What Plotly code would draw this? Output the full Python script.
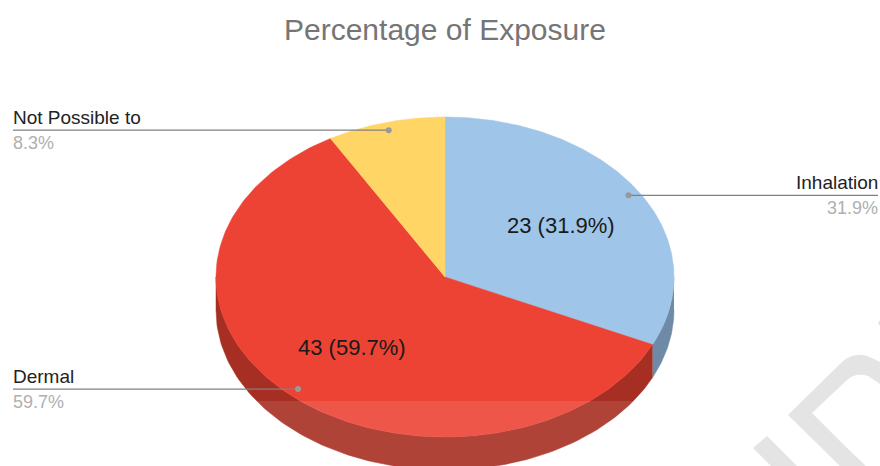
import numpy as np
import plotly.graph_objects as go

title = "Percentage of Exposure"
labels = ["Inhalation", "Dermal", "Not Possible to"]
values = [23, 43, 6]
colors = ["#9FC5E8", "#EC4335", "#FFD666"]
side_colors = ["#6F8AA6", "#A62E22", "#B39648"]

# pie geometry, in page pixels
cx, cy, rx, ry = 445, 277, 229, 160
depth = 33
FONT = "Liberation Sans"

total = sum(values)
shares = [v / total for v in values]
ends = np.cumsum(shares) * 360
starts = ends - np.array(shares) * 360
mids = (starts + ends) / 2


def px_at(deg, r=1.0, drop=0):
    t = np.radians(deg)
    return cx + rx * r * np.sin(t), cy - ry * r * np.cos(t) + drop


fig = go.Figure()

# sides first, only the front half of the rim shows
for a, b, col in zip(starts, ends, side_colors):
    lo, hi = max(a, 90), min(b, 270)
    if lo >= hi:
        continue
    th = np.linspace(lo, hi, 120)
    x1, y1 = px_at(th)
    x2, y2 = px_at(th[::-1], drop=depth)
    fig.add_trace(go.Scatter(x=np.r_[x1, x2], y=np.r_[y1, y2], fill="toself", fillcolor=col,
                             mode="lines", line=dict(color=col, width=0.5), hoverinfo="skip"))

# top faces
for a, b, col in zip(starts, ends, colors):
    th = np.linspace(a, b, 200)
    x1, y1 = px_at(th)
    fig.add_trace(go.Scatter(x=np.r_[cx, x1, cx], y=np.r_[cy, y1, cy], fill="toself", fillcolor=col,
                             mode="lines", line=dict(color=col, width=0.5), hoverinfo="skip"))

# value labels inside the big slices
for v, s, m in zip(values, shares, mids):
    if s < 0.1:
        continue
    x, y = px_at(m, 0.6)
    fig.add_annotation(x=x, y=y, text=f"{v} ({s * 100:.1f}%)", showarrow=False,
                       font=dict(family=FONT, size=22, color="#1a1a1a"))

# leader lines and outside labels
for lab, s, m in zip(labels, shares, mids):
    x, y = px_at(m, 0.95)
    right = x > cx
    edge = 878 if right else 13
    nudge = 2 if right else -2
    fig.add_trace(go.Scatter(x=[edge, x], y=[y, y], mode="lines",
                             line=dict(color="#808080", width=1.2), hoverinfo="skip"))
    fig.add_trace(go.Scatter(x=[x], y=[y], mode="markers",
                             marker=dict(color="#999999", size=6), hoverinfo="skip"))
    anchor = "right" if right else "left"
    fig.add_annotation(x=edge, y=y, text=lab, showarrow=False, xanchor=anchor, yanchor="bottom",
                       xshift=nudge, yshift=0, font=dict(family=FONT, size=19, color="#222222"))
    fig.add_annotation(x=edge, y=y, text=f"{s * 100:.1f}%", showarrow=False, xanchor=anchor, yanchor="top",
                       xshift=nudge, yshift=-1, font=dict(family=FONT, size=18, color="#b0b0b0"))

fig.add_annotation(x=445, y=29, text=title, showarrow=False,
                   font=dict(family=FONT, size=30, color="#757575"))

# watermark left over in the screenshot
mark = "#E4E4E4"
shapes = [
    dict(type="path", layer="below", line_width=0, fillcolor=mark,
         path="M 788 415 L 842 362 Q 856 350 872 358 L 880 362 L 880 384 L 868 376 Q 856 372 847 380 L 812 413 L 847 448 L 866 466 L 840 466 Z"),
    dict(type="path", layer="below", line_width=0, fillcolor=mark,
         path="M 753 448 L 767 436 L 797 466 L 771 466 Z"),
    dict(type="path", layer="below", line_width=0, fillcolor=mark,
         path="M 878 323 L 880 320 L 880 326 Z"),
    dict(type="rect", layer="above", line_width=0, fillcolor="rgba(255,255,255,0.1)",
         x0=200, x1=700, y0=401, y1=466),
]

fig.update_layout(
    width=880, height=466, showlegend=False, shapes=shapes,
    paper_bgcolor="white", plot_bgcolor="white",
    margin=dict(l=0, r=0, t=0, b=0),
    xaxis=dict(range=[0, 880], visible=False, fixedrange=True),
    yaxis=dict(range=[466, 0], visible=False, fixedrange=True),
)

fig.write_html("out.html", config={"displayModeBar": False},
               post_script="document.body.style.margin='0';document.body.style.overflow='hidden';")
